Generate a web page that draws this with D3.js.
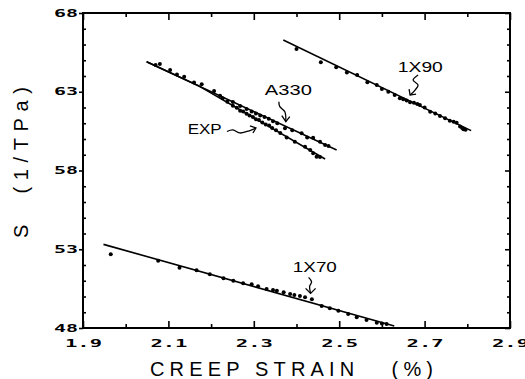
<!DOCTYPE html>
<html>
<head>
<meta charset="utf-8">
<script src="https://cdnjs.cloudflare.com/ajax/libs/d3/7.8.5/d3.min.js"></script>
<style>
  body { margin: 0; background: #fff; }
  .tick line { stroke: #000; stroke-width: 1.6; }
  .ticklabel { font-family: "DejaVu Sans Mono", monospace; font-weight: bold; font-size: 10px; fill: #000; }
</style>
</head>
<body>
<svg id="chart"></svg>
<script>
// tick values / labels
const xTicksMajor = [1.9, 2.1, 2.3, 2.5, 2.7, 2.9];
const xTickLabels = ['1.9', '2.1', '2.3', '2.5', '2.7', '2.9'];
const xTicksMinor = [2.0, 2.2, 2.4, 2.6, 2.8];
const yTicksMajor = [48, 53, 58, 63, 68];
const yTickLabels = ['48', '53', '58', '63', '68'];
const yTicksMinor = [49, 50, 51, 52, 54, 55, 56, 57, 59, 60, 61, 62, 64, 65, 66, 67];

// measured points [strain %, S 1/TPa]
const pts1x90 = [[2.400, 65.71], [2.457, 64.87], [2.493, 64.55], [2.518, 64.23], [2.542, 64.06],
  [2.566, 63.60], [2.588, 63.43], [2.600, 63.17], [2.615, 63.00], [2.630, 62.80], [2.642, 62.58],
  [2.650, 62.52], [2.658, 62.45], [2.666, 62.33], [2.675, 62.30], [2.683, 62.22], [2.689, 62.16],
  [2.700, 62.00], [2.713, 61.73], [2.725, 61.62], [2.736, 61.46], [2.748, 61.32], [2.759, 61.16],
  [2.768, 61.10], [2.775, 61.03], [2.783, 60.80], [2.788, 60.70], [2.791, 60.62], [2.796, 60.58]];

const ptsA330 = [[2.080, 64.76], [2.104, 64.38], [2.137, 63.96], [2.178, 63.47], [2.207, 63.05],
  [2.227, 62.58], [2.251, 62.35], [2.268, 62.10], [2.283, 61.90], [2.295, 61.75], [2.305, 61.62],
  [2.315, 61.50], [2.325, 61.40], [2.335, 61.28], [2.345, 61.12], [2.355, 61.00], [2.373, 60.68],
  [2.390, 60.55], [2.412, 60.36], [2.425, 60.10], [2.439, 60.08], [2.455, 59.83], [2.467, 59.62],
  [2.475, 59.55]];

const ptsExp = [[2.070, 64.70], [2.120, 64.10], [2.160, 63.58], [2.221, 62.75], [2.238, 62.37],
  [2.251, 62.11], [2.260, 61.98], [2.268, 61.80], [2.275, 61.74], [2.283, 61.60], [2.290, 61.50],
  [2.298, 61.40], [2.305, 61.25], [2.312, 61.20], [2.320, 61.05], [2.328, 60.92], [2.336, 60.85],
  [2.343, 60.70], [2.352, 60.55], [2.362, 60.38], [2.377, 60.10], [2.396, 59.83], [2.420, 59.51],
  [2.432, 59.30], [2.439, 59.09], [2.447, 58.88], [2.455, 58.85]];

const pts1x70 = [[1.965, 52.68], [2.076, 52.27], [2.126, 51.83], [2.166, 51.66], [2.197, 51.41],
  [2.229, 51.16], [2.252, 51.00], [2.275, 50.84], [2.295, 50.77], [2.310, 50.65], [2.330, 50.48],
  [2.345, 50.42], [2.354, 50.37], [2.370, 50.27], [2.385, 50.16], [2.395, 50.10], [2.408, 50.03],
  [2.420, 49.95], [2.436, 49.82], [2.459, 49.40], [2.478, 49.25], [2.498, 49.10], [2.521, 48.89],
  [2.541, 48.68], [2.564, 48.51], [2.588, 48.34], [2.600, 48.28], [2.611, 48.25]];

// fitted lines (end points)
const fit1x90 = [[2.369, 66.29], [2.809, 60.53]];
const fitA330 = [[2.049, 64.91], [2.494, 59.30]];
const fitExp = [[2.049, 64.91], [2.170, 63.39], [2.467, 58.73]];
const fit1x70 = [[1.948, 53.31], [2.629, 48.13]];

// curve labels and arrow tips (data coords)
const labels = [
  {text: 'A330', x: 2.381, y: 62.79, len: 47, tip: [2.375, 61.10],
   squiggle: [[-7, -20], [-6, -15], [-1, -10], [0, 0]], head: [[-4, -6], [4, -5]]},
  {text: 'EXP', x: 2.185, y: 60.30, len: 34, tip: [2.305, 60.70],
   squiggle: [[-29, 3.5], [-23, 2], [-16, 5], [-9, 3.5], [0, 0]], head: [[-6, -2], [-3, 5]]},
  {text: '1X90', x: 2.690, y: 64.25, len: 45, tip: [2.666, 62.79],
   squiggle: [[8, -20], [3, -15], [8, -10], [5, -5], [0, 0]], head: [[-1, -6], [6, -1]]},
  {text: '1X70', x: 2.443, y: 51.57, len: 44, tip: [2.433, 50.20],
   squiggle: [[-2, -16], [1, -11.5], [-1, -7], [0, 0]], head: [[-5, -5], [5, -5]]}
];

const W = 525, H = 379;
const margin = {top: 13, right: 15, bottom: 51, left: 83};
const width = W - margin.left - margin.right;
const height = H - margin.top - margin.bottom;

const x = d3.scaleLinear().domain([1.9, 2.9]).range([0, width]);
const y = d3.scaleLinear().domain([48, 68]).range([height, 0]);

const svg = d3.select('#chart').attr('width', W).attr('height', H);
const g = svg.append('g').attr('transform', `translate(${margin.left},${margin.top})`);

function clean(sel) { sel.select('.domain').remove(); }

// bottom axis
g.append('g').attr('transform', `translate(0,${height})`)
  .call(d3.axisBottom(x).tickValues(xTicksMinor).tickSize(-4).tickFormat('')).call(clean);
g.append('g').attr('transform', `translate(0,${height})`)
  .call(d3.axisBottom(x).tickValues(xTicksMajor).tickSize(-7).tickFormat((d, i) => xTickLabels[i]))
  .call(clean)
  .call(a => a.selectAll('text').attr('class', 'ticklabel').attr('dy', null).attr('y', 19)
    .attr('font-size', 11).attr('textLength', 37).attr('lengthAdjust', 'spacingAndGlyphs'));

// top axis (ticks only)
g.append('g').call(d3.axisTop(x).tickValues(xTicksMinor).tickSize(-4).tickFormat('')).call(clean);
g.append('g').call(d3.axisTop(x).tickValues(xTicksMajor).tickSize(-7).tickFormat('')).call(clean);

// left axis
g.append('g').call(d3.axisLeft(y).tickValues(yTicksMinor).tickSize(-3).tickFormat('')).call(clean);
g.append('g').call(d3.axisLeft(y).tickValues(yTicksMajor).tickSize(4).tickPadding(1).tickFormat((d, i) => yTickLabels[i]))
  .call(clean)
  .call(a => a.selectAll('text').attr('class', 'ticklabel')
    .attr('textLength', 24).attr('lengthAdjust', 'spacingAndGlyphs'));

// right axis
g.append('g').attr('transform', `translate(${width},0)`)
  .call(d3.axisRight(y).tickValues(yTicksMinor).tickSize(-3).tickFormat('')).call(clean);
g.append('g').attr('transform', `translate(${width},0)`)
  .call(d3.axisRight(y).tickValues(yTicksMajor).tickSize(-5).tickFormat('')).call(clean);

// frame
g.append('rect').attr('width', width).attr('height', height)
  .attr('fill', 'none').attr('stroke', '#000').attr('stroke-width', 2);

// fit lines
const line = d3.line().x(d => x(d[0])).y(d => y(d[1]));
[fit1x90, fitA330, fitExp, fit1x70].forEach(f => {
  g.append('path').attr('d', line(f)).attr('fill', 'none')
    .attr('stroke', '#000').attr('stroke-width', 1.6);
});

// points
[pts1x90, ptsA330, ptsExp, pts1x70].forEach(pts => {
  g.append('g').selectAll('circle').data(pts).join('circle')
    .attr('cx', d => x(d[0])).attr('cy', d => y(d[1])).attr('r', 2).attr('fill', '#000');
});

// labels and arrows
const curve = d3.line().curve(d3.curveCatmullRom);
labels.forEach(l => {
  g.append('text').attr('x', x(l.x)).attr('y', y(l.y))
    .attr('text-anchor', 'middle')
    .attr('font-family', 'Liberation Sans, Arial, sans-serif').attr('font-size', 14)
    .attr('textLength', l.len).attr('lengthAdjust', 'spacingAndGlyphs')
    .text(l.text);
  const tx = x(l.tip[0]), ty = y(l.tip[1]);
  const a = g.append('g').attr('transform', `translate(${tx},${ty})`)
    .attr('fill', 'none').attr('stroke', '#000').attr('stroke-width', 1.3);
  a.append('path').attr('d', curve(l.squiggle));
  a.append('path').attr('d', `M${l.head[0]}L0,0L${l.head[1]}`);
});

// axis titles
svg.append('text')
  .attr('x', 150).attr('y', 376)
  .style('white-space', 'pre')
  .attr('font-family', 'Liberation Sans, Arial, sans-serif').attr('font-size', 20)
  .attr('textLength', 283).attr('lengthAdjust', 'spacing')
  .text('CREEP STRAIN   (%)');

svg.append('text')
  .attr('transform', 'translate(28,238) rotate(-90)')
  .style('white-space', 'pre')
  .attr('font-family', 'Liberation Sans, Arial, sans-serif').attr('font-size', 20)
  .attr('textLength', 151).attr('lengthAdjust', 'spacing')
  .text('S  (1/TPa)');
</script>
</body>
</html>
